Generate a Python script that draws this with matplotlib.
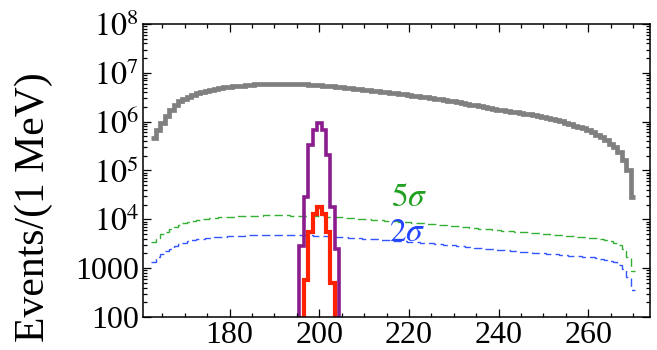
import numpy as np
import matplotlib
matplotlib.use("Agg")
import matplotlib.pyplot as plt
from matplotlib.ticker import FixedLocator, MultipleLocator, LogLocator, NullFormatter

plt.rcParams['font.family'] = ['Liberation Serif', 'DejaVu Serif']
plt.rcParams['mathtext.fontset'] = 'stix'

# background spectrum, 1 MeV bins centred on 163 ... 270 (log10 of events)
bkg_first_bin = 163
bkg_log10 = [
    5.66, 5.82, 5.98, 6.12, 6.24, 6.34, 6.42, 6.47, 6.51, 6.55,
    6.58, 6.60, 6.62, 6.64, 6.66, 6.68, 6.70, 6.71, 6.72, 6.73,
    6.74, 6.75, 6.76, 6.765, 6.77, 6.775, 6.78, 6.78, 6.78, 6.78,
    6.78, 6.78, 6.775, 6.77, 6.765, 6.76, 6.75, 6.745, 6.74, 6.73,
    6.72, 6.71, 6.70, 6.69, 6.68, 6.67, 6.66, 6.65, 6.64, 6.63,
    6.62, 6.61, 6.60, 6.59, 6.58, 6.57, 6.56, 6.545, 6.53, 6.52,
    6.51, 6.50, 6.485, 6.47, 6.455, 6.44, 6.43, 6.415, 6.40, 6.385,
    6.37, 6.35, 6.335, 6.315, 6.30, 6.28, 6.26, 6.245, 6.23, 6.22,
    6.205, 6.19, 6.18, 6.165, 6.15, 6.14, 6.12, 6.10, 6.075, 6.05,
    6.03, 6.005, 5.98, 5.95, 5.92, 5.89, 5.86, 5.82, 5.78, 5.73,
    5.68, 5.62, 5.55, 5.49, 5.38, 5.21, 5.01, 4.46,
]

# 2 sigma and 5 sigma sensitivity curves, same bins (log10 of events)
two_sigma_log10 = [
    3.13, 3.22, 3.29, 3.35, 3.40, 3.45, 3.49, 3.52, 3.55, 3.57,
    3.59, 3.60, 3.61, 3.62, 3.63, 3.64, 3.645, 3.65, 3.655, 3.66,
    3.665, 3.67, 3.673, 3.676, 3.678, 3.68, 3.68, 3.68, 3.68, 3.68,
    3.68, 3.678, 3.676, 3.674, 3.672, 3.67, 3.667, 3.664, 3.66, 3.657,
    3.653, 3.647, 3.64, 3.633, 3.627, 3.62, 3.613, 3.607, 3.60, 3.593,
    3.587, 3.58, 3.573, 3.567, 3.56, 3.553, 3.547, 3.54, 3.533, 3.527,
    3.52, 3.513, 3.507, 3.50, 3.49, 3.48, 3.47, 3.465, 3.455, 3.445,
    3.44, 3.43, 3.42, 3.41, 3.40, 3.395, 3.385, 3.378, 3.37, 3.363,
    3.355, 3.348, 3.34, 3.333, 3.326, 3.318, 3.31, 3.303, 3.296, 3.288,
    3.28, 3.273, 3.266, 3.258, 3.25, 3.243, 3.235, 3.227, 3.22, 3.21,
    3.195, 3.175, 3.15, 3.12, 3.07, 2.98, 2.82, 2.55,
]
five_sigma_log10 = [
    3.53, 3.62, 3.69, 3.75, 3.80, 3.85, 3.89, 3.92, 3.95, 3.97,
    3.99, 4.00, 4.01, 4.02, 4.03, 4.04, 4.045, 4.05, 4.055, 4.06,
    4.065, 4.07, 4.073, 4.076, 4.078, 4.08, 4.08, 4.08, 4.08, 4.08,
    4.08, 4.078, 4.076, 4.074, 4.072, 4.07, 4.067, 4.064, 4.06, 4.057,
    4.053, 4.047, 4.04, 4.033, 4.027, 4.02, 4.013, 4.007, 4.00, 3.993,
    3.987, 3.98, 3.973, 3.967, 3.96, 3.953, 3.947, 3.94, 3.933, 3.927,
    3.92, 3.913, 3.907, 3.90, 3.89, 3.88, 3.87, 3.865, 3.855, 3.845,
    3.84, 3.83, 3.82, 3.81, 3.80, 3.795, 3.785, 3.778, 3.77, 3.763,
    3.755, 3.748, 3.74, 3.733, 3.726, 3.718, 3.71, 3.703, 3.696, 3.688,
    3.68, 3.673, 3.666, 3.658, 3.65, 3.643, 3.635, 3.627, 3.62, 3.61,
    3.595, 3.575, 3.55, 3.52, 3.47, 3.39, 3.22, 2.95,
]

# signal peaks, bins centred on 196 ... 204
sig_first_bin = 196
signal_large = [2800, 28000, 330000, 680000, 950000, 680000, 210000, 18000, 2500]
signal_small = [60, 560, 5500, 13000, 18000, 13000, 5500, 500, 60]

x_ticks = [180, 200, 220, 240, 260]
y_ticks = [100, 1000, 1e4, 1e5, 1e6, 1e7, 1e8]
y_tick_labels = ['100', '1000', r'$10^{4}$', r'$10^{5}$', r'$10^{6}$', r'$10^{7}$', r'$10^{8}$']

fig = plt.figure(figsize=(6.57, 3.5), dpi=100)
ax = fig.add_axes([0.2177, 0.0943, 0.7713, 0.8372])
ax.set_yscale('log')

bkg_edges = np.arange(len(bkg_log10) + 1) + bkg_first_bin - 0.5
sig_edges = np.arange(len(signal_large) + 1) + sig_first_bin - 0.5

ax.stairs(10 ** np.array(five_sigma_log10), bkg_edges, baseline=None,
          color='#33b033', lw=1.0, linestyle=(0, (6, 3)))
ax.stairs(10 ** np.array(two_sigma_log10), bkg_edges, baseline=None,
          color='#3355ff', lw=1.0, linestyle=(0, (6, 3)))
ax.stairs(10 ** np.array(bkg_log10), bkg_edges, baseline=None,
          color='#808080', lw=3.4)
ax.stairs(signal_large, sig_edges, baseline=1,
          color='#8b1c8e', lw=2.6)
ax.stairs(signal_small, sig_edges, baseline=1,
          color='#ff2200', lw=3.0)

ax.text(220, 10 ** 4.45, r'$5\sigma$', color='#22a022', fontsize=24,
        ha='center', va='center')
ax.text(219.5, 10 ** 3.72, r'$2\sigma$', color='#2244ff', fontsize=24,
        ha='center', va='center')

ax.set_xlim(160.7, 273.7)
ax.set_ylim(100, 1e8)

ax.xaxis.set_major_locator(FixedLocator(x_ticks))
ax.xaxis.set_minor_locator(MultipleLocator(5))
ax.yaxis.set_major_locator(FixedLocator(y_ticks))
ax.set_yticklabels(y_tick_labels)
ax.yaxis.set_minor_locator(LogLocator(base=10, subs=np.arange(2, 10), numticks=20))
ax.yaxis.set_minor_formatter(NullFormatter())

ax.tick_params(which='both', direction='in', top=True, right=True,
               labelsize=23, width=0.9)
ax.tick_params(which='major', length=6, pad=3)
ax.tick_params(which='minor', length=3)
for s in ax.spines.values():
    s.set_linewidth(1.1)

ax.set_ylabel('Events/(1 MeV)', fontsize=30)
ax.yaxis.set_label_coords(-0.178, 0.375)

fig.savefig('out.png', dpi=100)
